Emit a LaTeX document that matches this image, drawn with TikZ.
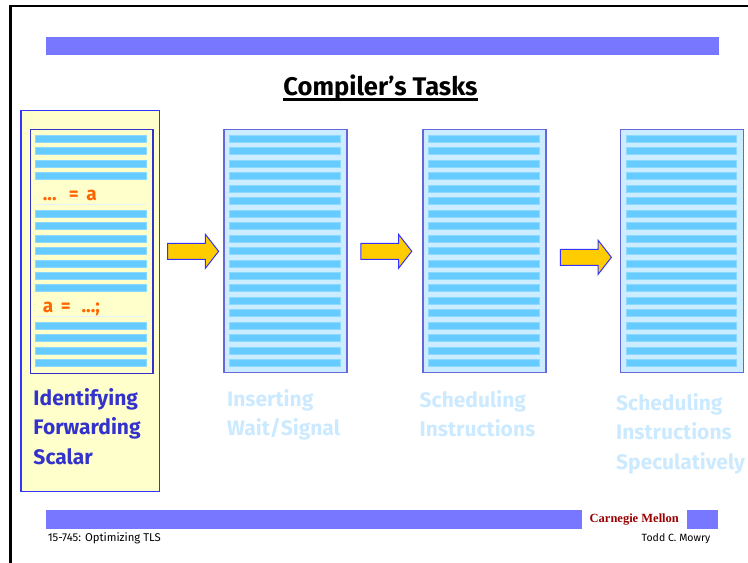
\documentclass[tikz,border=0pt]{standalone}
\usepackage{fontspec}
\setmainfont{Fira Sans}
\newfontfamily\cmufont{Liberation Serif}
\usepackage{tikz}
\usetikzlibrary{shapes.arrows, calc}
\definecolor{barblue}{RGB}{119,119,255}
\definecolor{paleyellow}{RGB}{255,255,204}
\definecolor{boxblue}{RGB}{51,51,255}
\definecolor{docfill}{RGB}{204,236,255}
\definecolor{docedge}{RGB}{102,102,221}
\definecolor{stripe}{RGB}{102,204,255}
\definecolor{stripeedge}{RGB}{140,216,255}
\definecolor{gold}{RGB}{255,204,0}
\definecolor{taskblue}{RGB}{51,51,204}
\definecolor{fadeblue}{RGB}{204,234,255}
\definecolor{codeorange}{RGB}{255,102,0}
\definecolor{cmured}{RGB}{153,0,0}
\def\stripesep{12.47}
\def\linesep{29.5}
\tikzset{
	every node/.style={
		font=\bfseries
	},
	doc/.style={
		shape=rectangle,
		minimum width=123pt,
		minimum height=243.4pt,
		inner sep=0pt,
		fill=docfill,
		draw=docedge,
		line width=1.2pt
	},
	bigarrow/.style={
		shape=single arrow,
		fill=gold,
		draw=boxblue,
		line width=1pt,
		inner xsep=0pt,
		inner ysep=7.5pt,
		minimum height=51pt,
		minimum width=34pt,
		single arrow head extend=9pt,
		single arrow tip angle=104
	},
	task/.style={
		font=\fontsize{21}{26}\selectfont\bfseries,
		inner sep=0pt,
		anchor=base west
	},
	code/.style={
		font=\fontsize{19}{22}\selectfont\bfseries,
		text=codeorange,
		inner sep=0pt,
		anchor=base west
	},
	foot/.style={
		font=\fontsize{11.3}{13}\selectfont,
		inner sep=0pt
	}
}

\begin{document}
\begin{tikzpicture}
	[x=1pt,y=-1pt]
	\tikzstyle{stripebar}=[fill=stripe,draw=stripeedge,line width=0.6pt]
	\tikzstyle{bar}=[fill=barblue]
	
	\useasboundingbox (0,0) rectangle (748,563);
	\draw[line width=2.3pt] (10.5,563) -- (10.5,6.2) -- (748,6.2);
	
	\fill[bar] (46,36.5) rectangle (719,55);
	\node[font=\fontsize{25.5}{30}\selectfont\bfseries,inner sep=0pt,anchor=base] (title) at (380.5,95) {Compiler's Tasks};
	\draw[line width=2.4pt] ($(title.base west)+(0,4.6)$) -- ($(title.base east)+(0,4.6)$);
	
	\node[rectangle,fill=paleyellow,draw=boxblue,line width=1.5pt,minimum width=138.7pt,minimum height=381pt,inner sep=0pt] (hl) at (90.35,301.2) {};
	\node[doc,fill=paleyellow,draw=taskblue,minimum width=122.7pt,minimum height=244pt] (D-1) at (91.65,251.3) {};
	\node[doc] (D-2) at (285.5,251) {};
	\node[doc] (D-3) at (484.5,251) {};
	\node[doc] (D-4) at (682,251) {};
	
	\foreach \i in {0,1,2,3,6,7,8,9,10,11,12,15,16,17,18}
	\fill[stripebar] ($(D-1.north west)+(5.7,6.4+\i*\stripesep)$) rectangle ++(110.8,7);
	\foreach \k in {2,3,4}
	\foreach \i in {0,...,18}
	\fill[stripebar] ($(D-\k.north west)+(6,6.4+\i*\stripesep)$) rectangle ++(110.8,7);
	
	\node[code] (c-1) at (42.7,200) {...\,\, = \,a};
	\node[code] (c-2) at (42.7,312.7) {a \,= \,\,...;};
	\draw[fadeblue!60,line width=0.8pt] ($(D-1.north west)+(5.7,75.5)$) -- ++(110.8,0);
	\draw[fadeblue!60,line width=0.8pt] ($(D-1.north west)+(5.7,187.8)$) -- ++(110.8,0);
	
	\node[bigarrow] (A-1) at (190,251.3) {};
	\node[bigarrow] (A-2) at (383.2,251.3) {};
	\node[bigarrow] (A-3) at (582.8,257.3) {};
	
	\foreach \txt [count=\i] in {Identifying,Forwarding,Scalar}
	\node[task,text=taskblue] (T-1-\i) at (33.3,405+\linesep*\i-\linesep) {\txt};
	\foreach \txt [count=\i] in {Inserting,Wait/Signal}
	\node[task,text=fadeblue] (T-2-\i) at (227,406+\linesep*\i-\linesep) {\txt};
	\foreach \txt [count=\i] in {Scheduling,Instructions}
	\node[task,text=fadeblue] (T-3-\i) at (419.5,407+\linesep*\i-\linesep) {\txt};
	\foreach \txt [count=\i] in {Scheduling,Instructions,Speculatively}
	\node[task,text=fadeblue] (T-4-\i) at (616,410+\linesep*\i-\linesep) {\txt};
	
	\fill[bar] (46,510) rectangle (582,529);
	\fill[bar] (686.7,510) rectangle (718,529);
	\node[inner sep=0pt,font=\cmufont\fontsize{12.5}{14}\selectfont\bfseries,text=cmured] (cmu) at (634.3,519.5) {Carnegie Mellon};
	\node[foot,anchor=west] (course) at (47.6,538) {15-745: Optimizing TLS};
	\node[foot,font=\fontsize{10.5}{12}\selectfont,anchor=east] (author) at (710.5,539) {Todd C. Mowry};
\end{tikzpicture}
\end{document}
